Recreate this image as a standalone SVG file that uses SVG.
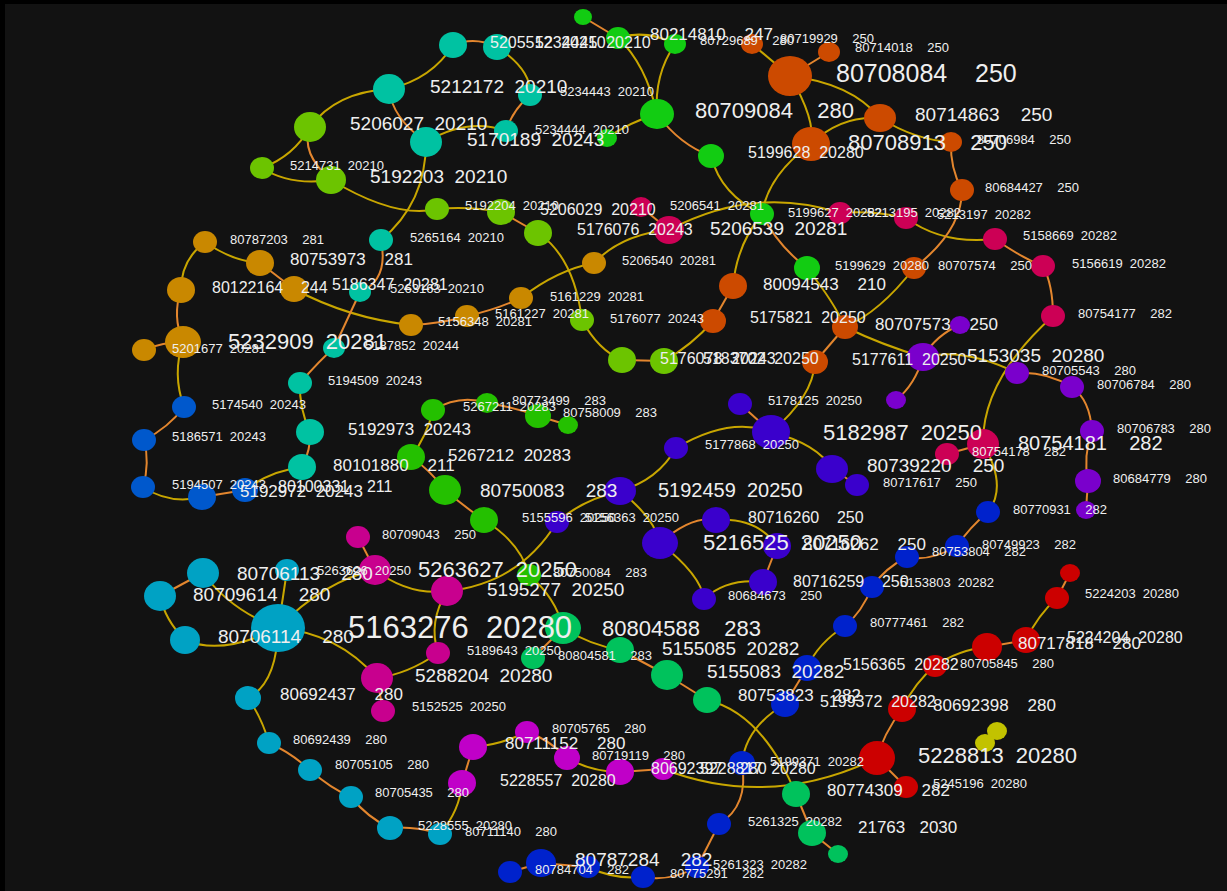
<svg xmlns="http://www.w3.org/2000/svg" width="1227" height="891" viewBox="0 0 1227 891">
<defs>
<style>
.e{fill:none;stroke-width:2}
.y{stroke:#c8a600}
.o{stroke:#e3862e}
.cg{fill:#12cc12}.co{fill:#cc4a00}.cr{fill:#cc0055}.cp{fill:#7a00cc}.ci{fill:#3a00cc}
.cb{fill:#0022cc}.ct{fill:#00c2a2}.cl{fill:#6cc400}.cy{fill:#c98800}.cbl{fill:#0058cc}
.cg2{fill:#24c000}.cc{fill:#00a2c4}.cm{fill:#c8008e}.cv{fill:#c000c8}.ce{fill:#00c25c}
.cx{fill:#cc0000}.cz{fill:#c2c200}
text{fill:#efefef;font-family:"Liberation Sans",Arial,sans-serif;white-space:pre}
.s13{font-size:13px}.s16{font-size:16px}.s17{font-size:17px}.s19{font-size:19px}
.s20{font-size:20px}.s22{font-size:22px}.s25{font-size:25px}.s31{font-size:31px}
</style>
</defs>
<rect width="1227" height="891" fill="#000"/>
<rect x="5" y="4" width="1222" height="887" fill="#121212"/>

<g id="edges">
<path class="e o" d="M583,17 L618,38"/>
<path class="e y" d="M618,38 Q646,29 675,44"/>
<path class="e y" d="M618,38 Q646,64 657,114"/>
<path class="e y" d="M675,44 Q654,75 657,114"/>
<path class="e y" d="M657,114 Q630,122 607,138"/>
<path class="e o" d="M657,114 Q680,145 711,156"/>
<path class="e o" d="M453,45 Q475,36 497,47"/>
<path class="e y" d="M497,47 Q532,70 530,95"/>
<path class="e y" d="M453,45 Q432,79 389,89"/>
<path class="e y" d="M389,89 Q336,92 310,127"/>
<path class="e o" d="M389,89 Q392,118 426,142"/>
<path class="e o" d="M530,95 Q512,111 506,131"/>
<path class="e y" d="M426,142 Q468,117 506,131"/>
<path class="e y" d="M310,127 Q294,156 262,168"/>
<path class="e o" d="M310,127 Q300,153 331,180"/>
<path class="e y" d="M262,168 Q290,186 331,180"/>
<path class="e y" d="M331,180 Q396,219 437,209"/>
<path class="e y" d="M437,209 Q469,206 501,212"/>
<path class="e o" d="M501,212 L538,233"/>
<path class="e y" d="M426,142 Q426,203 381,240"/>
<path class="e o" d="M381,240 Q389,280 360,292"/>
<path class="e y" d="M538,233 Q574,257 582,320"/>
<path class="e y" d="M582,320 Q598,350 622,360"/>
<path class="e o" d="M622,360 L664,361"/>
<path class="e y" d="M664,361 Q692,345 713,321"/>
<path class="e o" d="M713,321 L733,286"/>
<path class="e y" d="M762,214 Q737,244 733,286"/>
<path class="e y" d="M811,144 Q768,175 762,214"/>
<path class="e y" d="M711,156 Q721,195 762,214"/>
<path class="e o" d="M762,214 Q777,245 807,268"/>
<path class="e y" d="M594,263 Q622,234 669,230"/>
<path class="e o" d="M641,207 L669,230"/>
<path class="e y" d="M669,230 Q754,185 840,213"/>
<path class="e y" d="M840,213 Q873,210 906,218"/>
<path class="e y" d="M906,218 Q943,245 995,239"/>
<path class="e o" d="M995,239 Q1022,258 1043,266"/>
<path class="e o" d="M1043,266 Q1053,285 1053,316"/>
<path class="e y" d="M1053,316 Q982,380 983,444"/>
<path class="e o" d="M983,444 L947,454"/>
<path class="e y" d="M983,444 Q1008,486 988,512"/>
<path class="e o" d="M988,512 Q970,527 957,546"/>
<path class="e o" d="M957,546 Q930,562 907,557"/>
<path class="e o" d="M907,557 Q885,568 872,587"/>
<path class="e o" d="M872,587 Q862,612 845,626"/>
<path class="e y" d="M845,626 Q818,643 807,668"/>
<path class="e o" d="M807,668 L785,704"/>
<path class="e y" d="M785,704 Q746,727 742,763"/>
<path class="e o" d="M742,763 Q749,806 719,824"/>
<path class="e o" d="M719,824 L697,867"/>
<path class="e o" d="M697,867 Q670,882 643,877"/>
<path class="e y" d="M643,877 Q615,880 588,867"/>
<path class="e o" d="M588,867 L541,863"/>
<path class="e o" d="M541,863 L510,872"/>
<path class="e o" d="M960,325 Q936,335 923,357"/>
<path class="e o" d="M923,357 Q915,385 896,400"/>
<path class="e y" d="M923,357 Q964,347 1017,373"/>
<path class="e o" d="M1017,373 Q1045,371 1072,387"/>
<path class="e o" d="M1072,387 Q1090,400 1092,431"/>
<path class="e o" d="M1092,431 Q1083,456 1088,481"/>
<path class="e o" d="M1088,481 L1086,510"/>
<path class="e y" d="M752,44 L790,76"/>
<path class="e o" d="M790,76 L829,52"/>
<path class="e y" d="M790,76 Q816,120 811,144"/>
<path class="e y" d="M790,76 Q851,83 880,118"/>
<path class="e y" d="M880,118 Q841,115 811,144"/>
<path class="e y" d="M880,118 Q915,140 951,142"/>
<path class="e o" d="M951,142 Q950,168 962,190"/>
<path class="e o" d="M962,190 Q962,231 914,268"/>
<path class="e y" d="M807,268 Q834,302 845,327"/>
<path class="e y" d="M914,268 Q880,312 845,327"/>
<path class="e y" d="M845,327 Q882,345 923,357"/>
<path class="e o" d="M845,327 L815,362"/>
<path class="e y" d="M815,362 Q813,397 771,432"/>
<path class="e o" d="M771,432 L740,404"/>
<path class="e y" d="M771,432 Q730,416 676,448"/>
<path class="e y" d="M771,432 Q818,444 832,469"/>
<path class="e o" d="M832,469 L857,485"/>
<path class="e y" d="M676,448 Q658,480 620,491"/>
<path class="e y" d="M620,491 Q654,517 660,543"/>
<path class="e o" d="M660,543 Q692,515 716,520"/>
<path class="e y" d="M716,520 Q757,517 777,546"/>
<path class="e o" d="M777,546 L763,582"/>
<path class="e y" d="M763,582 Q727,578 704,599"/>
<path class="e y" d="M660,543 Q701,575 704,599"/>
<path class="e y" d="M620,491 Q582,500 557,522"/>
<path class="e y" d="M557,522 Q519,584 447,591"/>
<path class="e y" d="M484,520 Q521,543 529,575"/>
<path class="e y" d="M529,575 Q556,598 563,628"/>
<path class="e o" d="M433,410 Q460,394 487,403"/>
<path class="e o" d="M487,403 Q513,407 538,416"/>
<path class="e o" d="M538,416 L568,425"/>
<path class="e y" d="M433,410 Q427,436 411,457"/>
<path class="e o" d="M411,457 Q430,470 445,490"/>
<path class="e o" d="M445,490 Q466,508 484,520"/>
<path class="e y" d="M205,242 Q232,261 260,263"/>
<path class="e y" d="M205,242 Q181,260 181,290"/>
<path class="e o" d="M260,263 L294,289"/>
<path class="e o" d="M181,290 Q172,316 183,342"/>
<path class="e o" d="M183,342 Q163,342 144,350"/>
<path class="e y" d="M294,289 Q348,318 411,325"/>
<path class="e o" d="M411,325 Q440,324 467,316"/>
<path class="e o" d="M467,316 Q495,310 521,298"/>
<path class="e y" d="M521,298 Q557,270 594,263"/>
<path class="e y" d="M183,342 Q172,374 184,407"/>
<path class="e o" d="M184,407 Q168,428 144,440"/>
<path class="e o" d="M144,440 Q150,463 143,487"/>
<path class="e y" d="M143,487 Q170,505 202,497"/>
<path class="e o" d="M202,497 L245,490"/>
<path class="e y" d="M245,490 Q270,471 302,467"/>
<path class="e o" d="M302,467 Q311,450 310,432"/>
<path class="e y" d="M310,432 Q299,408 300,383"/>
<path class="e o" d="M300,383 Q320,360 334,348"/>
<path class="e o" d="M334,348 L360,292"/>
<path class="e o" d="M203,573 L160,596"/>
<path class="e y" d="M160,596 Q165,620 185,640"/>
<path class="e y" d="M185,640 Q222,656 278,628"/>
<path class="e y" d="M203,573 Q230,610 278,628"/>
<path class="e y" d="M287,570 Q283,598 278,628"/>
<path class="e y" d="M278,628 Q324,581 375,570"/>
<path class="e y" d="M278,628 Q338,633 377,678"/>
<path class="e y" d="M278,628 Q277,683 248,698"/>
<path class="e y" d="M248,698 Q262,718 269,743"/>
<path class="e o" d="M269,743 Q290,752 310,770"/>
<path class="e o" d="M310,770 Q330,788 351,797"/>
<path class="e o" d="M351,797 Q368,818 390,828"/>
<path class="e o" d="M390,828 Q415,826 440,834"/>
<path class="e y" d="M440,834 Q460,810 462,783"/>
<path class="e o" d="M462,783 L473,747"/>
<path class="e y" d="M473,747 Q500,745 527,732"/>
<path class="e o" d="M527,732 Q550,740 567,758"/>
<path class="e y" d="M567,758 Q592,772 620,772"/>
<path class="e o" d="M620,772 L663,769"/>
<path class="e y" d="M663,769 Q770,810 877,758"/>
<path class="e o" d="M358,537 L375,570"/>
<path class="e y" d="M375,570 Q409,596 447,591"/>
<path class="e y" d="M447,591 Q428,622 438,653"/>
<path class="e y" d="M438,653 Q408,674 377,678"/>
<path class="e o" d="M377,678 L383,711"/>
<path class="e o" d="M563,628 L533,658"/>
<path class="e y" d="M563,628 Q590,645 620,650"/>
<path class="e o" d="M620,650 L667,675"/>
<path class="e o" d="M667,675 L707,700"/>
<path class="e y" d="M707,700 Q762,713 796,794"/>
<path class="e o" d="M796,794 L812,833"/>
<path class="e o" d="M812,833 L838,854"/>
<path class="e o" d="M1070,573 L1057,598"/>
<path class="e y" d="M1057,598 Q1038,615 1026,640"/>
<path class="e o" d="M1026,640 L987,647"/>
<path class="e y" d="M987,647 Q958,650 935,666"/>
<path class="e y" d="M935,666 Q915,682 902,709"/>
<path class="e o" d="M902,709 Q883,735 877,758"/>
<path class="e o" d="M877,758 L906,787"/>
<path class="e o" d="M997,731 L985,743"/>
</g>

<g id="nodes">
<g id="node-g1"><ellipse class="cg" cx="583" cy="17" rx="9" ry="8"/></g>
<g id="node-g2"><ellipse class="cg" cx="618" cy="38" rx="12" ry="11"/></g>
<g id="node-g3"><ellipse class="cg" cx="675" cy="44" rx="11" ry="10"/></g>
<g id="node-g4"><ellipse class="cg" cx="657" cy="114" rx="17" ry="15"/></g>
<g id="node-g5"><ellipse class="cg" cx="711" cy="156" rx="13" ry="12"/></g>
<g id="node-g6"><ellipse class="cg" cx="607" cy="138" rx="10" ry="9"/></g>
<g id="node-g7"><ellipse class="cg" cx="762" cy="214" rx="12" ry="11"/></g>
<g id="node-g8"><ellipse class="cg" cx="807" cy="268" rx="13" ry="12"/></g>

<g id="node-o1"><ellipse class="co" cx="752" cy="44" rx="11" ry="10"/></g>
<g id="node-o2"><ellipse class="co" cx="790" cy="76" rx="22" ry="20"/></g>
<g id="node-o3"><ellipse class="co" cx="829" cy="52" rx="11" ry="10"/></g>
<g id="node-o4"><ellipse class="co" cx="880" cy="118" rx="16" ry="14"/></g>
<g id="node-o5"><ellipse class="co" cx="811" cy="144" rx="19" ry="17"/></g>
<g id="node-o6"><ellipse class="co" cx="951" cy="142" rx="11" ry="10"/></g>
<g id="node-o7"><ellipse class="co" cx="962" cy="190" rx="12" ry="11"/></g>
<g id="node-o8"><ellipse class="co" cx="914" cy="268" rx="12" ry="11"/></g>
<g id="node-o9"><ellipse class="co" cx="733" cy="286" rx="14" ry="13"/></g>
<g id="node-o10"><ellipse class="co" cx="713" cy="321" rx="13" ry="12"/></g>
<g id="node-o11"><ellipse class="co" cx="845" cy="327" rx="13" ry="12"/></g>
<g id="node-o12"><ellipse class="co" cx="815" cy="362" rx="13" ry="12"/></g>

<g id="node-r1"><ellipse class="cr" cx="641" cy="207" rx="11" ry="10"/></g>
<g id="node-r2"><ellipse class="cr" cx="669" cy="230" rx="15" ry="14"/></g>
<g id="node-r3"><ellipse class="cr" cx="840" cy="213" rx="12" ry="11"/></g>
<g id="node-r4"><ellipse class="cr" cx="906" cy="218" rx="12" ry="11"/></g>
<g id="node-r5"><ellipse class="cr" cx="995" cy="239" rx="12" ry="11"/></g>
<g id="node-r6"><ellipse class="cr" cx="1043" cy="266" rx="12" ry="11"/></g>
<g id="node-r7"><ellipse class="cr" cx="1053" cy="316" rx="12" ry="11"/></g>
<g id="node-r8"><ellipse class="cr" cx="983" cy="444" rx="16" ry="15"/></g>
<g id="node-r9"><ellipse class="cr" cx="947" cy="454" rx="12" ry="11"/></g>

<g id="node-p1"><ellipse class="cp" cx="960" cy="325" rx="10" ry="9"/></g>
<g id="node-p2"><ellipse class="cp" cx="923" cy="357" rx="16" ry="14"/></g>
<g id="node-p3"><ellipse class="cp" cx="896" cy="400" rx="10" ry="9"/></g>
<g id="node-p4"><ellipse class="cp" cx="1017" cy="373" rx="12" ry="11"/></g>
<g id="node-p5"><ellipse class="cp" cx="1072" cy="387" rx="12" ry="11"/></g>
<g id="node-p6"><ellipse class="cp" cx="1092" cy="431" rx="12" ry="11"/></g>
<g id="node-p7"><ellipse class="cp" cx="1088" cy="481" rx="13" ry="12"/></g>
<g id="node-p8"><ellipse class="cp" cx="1086" cy="510" rx="10" ry="9"/></g>

<g id="node-i1"><ellipse class="ci" cx="740" cy="404" rx="12" ry="11"/></g>
<g id="node-i2"><ellipse class="ci" cx="771" cy="432" rx="19" ry="17"/></g>
<g id="node-i3"><ellipse class="ci" cx="676" cy="448" rx="12" ry="11"/></g>
<g id="node-i4"><ellipse class="ci" cx="832" cy="469" rx="16" ry="14"/></g>
<g id="node-i5"><ellipse class="ci" cx="857" cy="485" rx="12" ry="11"/></g>
<g id="node-i6"><ellipse class="ci" cx="620" cy="491" rx="16" ry="14"/></g>
<g id="node-i7"><ellipse class="ci" cx="660" cy="543" rx="18" ry="16"/></g>
<g id="node-i8"><ellipse class="ci" cx="716" cy="520" rx="14" ry="13"/></g>
<g id="node-i9"><ellipse class="ci" cx="777" cy="546" rx="14" ry="13"/></g>
<g id="node-i10"><ellipse class="ci" cx="763" cy="582" rx="14" ry="13"/></g>
<g id="node-i11"><ellipse class="ci" cx="704" cy="599" rx="12" ry="11"/></g>
<g id="node-i12"><ellipse class="ci" cx="557" cy="522" rx="12" ry="11"/></g>

<g id="node-b1"><ellipse class="cb" cx="988" cy="512" rx="12" ry="11"/></g>
<g id="node-b2"><ellipse class="cb" cx="957" cy="546" rx="12" ry="11"/></g>
<g id="node-b3"><ellipse class="cb" cx="907" cy="557" rx="12" ry="11"/></g>
<g id="node-b4"><ellipse class="cb" cx="872" cy="587" rx="12" ry="11"/></g>
<g id="node-b5"><ellipse class="cb" cx="845" cy="626" rx="12" ry="11"/></g>
<g id="node-b6"><ellipse class="cb" cx="807" cy="668" rx="14" ry="13"/></g>
<g id="node-b7"><ellipse class="cb" cx="785" cy="704" rx="14" ry="13"/></g>
<g id="node-b8"><ellipse class="cb" cx="742" cy="763" rx="13" ry="12"/></g>
<g id="node-b9"><ellipse class="cb" cx="719" cy="824" rx="12" ry="11"/></g>
<g id="node-b10"><ellipse class="cb" cx="697" cy="867" rx="12" ry="11"/></g>
<g id="node-b11"><ellipse class="cb" cx="643" cy="877" rx="12" ry="11"/></g>
<g id="node-b12"><ellipse class="cb" cx="588" cy="867" rx="12" ry="11"/></g>
<g id="node-b13"><ellipse class="cb" cx="541" cy="863" rx="15" ry="14"/></g>
<g id="node-b14"><ellipse class="cb" cx="510" cy="872" rx="12" ry="11"/></g>

<g id="node-t1"><ellipse class="ct" cx="453" cy="45" rx="14" ry="13"/></g>
<g id="node-t2"><ellipse class="ct" cx="497" cy="47" rx="14" ry="13"/></g>
<g id="node-t3"><ellipse class="ct" cx="389" cy="89" rx="16" ry="15"/></g>
<g id="node-t4"><ellipse class="ct" cx="530" cy="95" rx="12" ry="11"/></g>
<g id="node-t5"><ellipse class="ct" cx="426" cy="142" rx="16" ry="15"/></g>
<g id="node-t6"><ellipse class="ct" cx="506" cy="131" rx="12" ry="11"/></g>
<g id="node-t7"><ellipse class="ct" cx="381" cy="240" rx="12" ry="11"/></g>
<g id="node-t8"><ellipse class="ct" cx="360" cy="292" rx="11" ry="10"/></g>
<g id="node-t9"><ellipse class="ct" cx="334" cy="348" rx="11" ry="10"/></g>
<g id="node-t10"><ellipse class="ct" cx="300" cy="383" rx="12" ry="11"/></g>
<g id="node-t11"><ellipse class="ct" cx="310" cy="432" rx="14" ry="13"/></g>
<g id="node-t12"><ellipse class="ct" cx="302" cy="467" rx="14" ry="13"/></g>

<g id="node-l1"><ellipse class="cl" cx="310" cy="127" rx="16" ry="15"/></g>
<g id="node-l2"><ellipse class="cl" cx="262" cy="168" rx="12" ry="11"/></g>
<g id="node-l3"><ellipse class="cl" cx="331" cy="180" rx="15" ry="14"/></g>
<g id="node-l4"><ellipse class="cl" cx="437" cy="209" rx="12" ry="11"/></g>
<g id="node-l5"><ellipse class="cl" cx="501" cy="212" rx="14" ry="13"/></g>
<g id="node-l6"><ellipse class="cl" cx="538" cy="233" rx="14" ry="13"/></g>
<g id="node-l7"><ellipse class="cl" cx="582" cy="320" rx="12" ry="11"/></g>
<g id="node-l8"><ellipse class="cl" cx="622" cy="360" rx="14" ry="13"/></g>
<g id="node-l9"><ellipse class="cl" cx="664" cy="361" rx="14" ry="13"/></g>

<g id="node-y1"><ellipse class="cy" cx="205" cy="242" rx="12" ry="11"/></g>
<g id="node-y2"><ellipse class="cy" cx="260" cy="263" rx="14" ry="13"/></g>
<g id="node-y3"><ellipse class="cy" cx="181" cy="290" rx="14" ry="13"/></g>
<g id="node-y4"><ellipse class="cy" cx="294" cy="289" rx="14" ry="13"/></g>
<g id="node-y5"><ellipse class="cy" cx="183" cy="342" rx="18" ry="16"/></g>
<g id="node-y6"><ellipse class="cy" cx="144" cy="350" rx="12" ry="11"/></g>
<g id="node-y7"><ellipse class="cy" cx="411" cy="325" rx="12" ry="11"/></g>
<g id="node-y8"><ellipse class="cy" cx="467" cy="316" rx="12" ry="11"/></g>
<g id="node-y9"><ellipse class="cy" cx="521" cy="298" rx="12" ry="11"/></g>
<g id="node-y10"><ellipse class="cy" cx="594" cy="263" rx="12" ry="11"/></g>

<g id="node-bl1"><ellipse class="cbl" cx="184" cy="407" rx="12" ry="11"/></g>
<g id="node-bl2"><ellipse class="cbl" cx="144" cy="440" rx="12" ry="11"/></g>
<g id="node-bl3"><ellipse class="cbl" cx="143" cy="487" rx="12" ry="11"/></g>
<g id="node-bl4"><ellipse class="cbl" cx="202" cy="497" rx="14" ry="13"/></g>
<g id="node-bl5"><ellipse class="cbl" cx="245" cy="490" rx="13" ry="12"/></g>

<g id="node-gg1"><ellipse class="cg2" cx="433" cy="410" rx="12" ry="11"/></g>
<g id="node-gg2"><ellipse class="cg2" cx="487" cy="403" rx="11" ry="10"/></g>
<g id="node-gg3"><ellipse class="cg2" cx="538" cy="416" rx="13" ry="12"/></g>
<g id="node-gg4"><ellipse class="cg2" cx="568" cy="425" rx="10" ry="9"/></g>
<g id="node-gg5"><ellipse class="cg2" cx="411" cy="457" rx="14" ry="13"/></g>
<g id="node-gg6"><ellipse class="cg2" cx="445" cy="490" rx="16" ry="15"/></g>
<g id="node-gg7"><ellipse class="cg2" cx="484" cy="520" rx="14" ry="13"/></g>
<g id="node-gg8"><ellipse class="cg2" cx="529" cy="575" rx="12" ry="11"/></g>

<g id="node-c1"><ellipse class="cc" cx="203" cy="573" rx="16" ry="15"/></g>
<g id="node-c2"><ellipse class="cc" cx="160" cy="596" rx="16" ry="15"/></g>
<g id="node-c3"><ellipse class="cc" cx="185" cy="640" rx="15" ry="14"/></g>
<g id="node-c4"><ellipse class="cc" cx="278" cy="628" rx="27" ry="24"/></g>
<g id="node-c5"><ellipse class="cc" cx="287" cy="570" rx="12" ry="11"/></g>
<g id="node-c6"><ellipse class="cc" cx="248" cy="698" rx="13" ry="12"/></g>
<g id="node-c7"><ellipse class="cc" cx="269" cy="743" rx="12" ry="11"/></g>
<g id="node-c8"><ellipse class="cc" cx="310" cy="770" rx="12" ry="11"/></g>
<g id="node-c9"><ellipse class="cc" cx="351" cy="797" rx="12" ry="11"/></g>
<g id="node-c10"><ellipse class="cc" cx="390" cy="828" rx="13" ry="12"/></g>
<g id="node-c11"><ellipse class="cc" cx="440" cy="834" rx="12" ry="11"/></g>

<g id="node-m1"><ellipse class="cm" cx="358" cy="537" rx="12" ry="11"/></g>
<g id="node-m2"><ellipse class="cm" cx="375" cy="570" rx="16" ry="15"/></g>
<g id="node-m3"><ellipse class="cm" cx="447" cy="591" rx="16" ry="15"/></g>
<g id="node-m4"><ellipse class="cm" cx="438" cy="653" rx="12" ry="11"/></g>
<g id="node-m5"><ellipse class="cm" cx="377" cy="678" rx="16" ry="15"/></g>
<g id="node-m6"><ellipse class="cm" cx="383" cy="711" rx="12" ry="11"/></g>

<g id="node-v1"><ellipse class="cv" cx="527" cy="732" rx="12" ry="11"/></g>
<g id="node-v2"><ellipse class="cv" cx="473" cy="747" rx="14" ry="13"/></g>
<g id="node-v3"><ellipse class="cv" cx="567" cy="758" rx="13" ry="12"/></g>
<g id="node-v4"><ellipse class="cv" cx="462" cy="783" rx="14" ry="13"/></g>
<g id="node-v5"><ellipse class="cv" cx="620" cy="772" rx="14" ry="13"/></g>
<g id="node-v6"><ellipse class="cv" cx="663" cy="769" rx="12" ry="11"/></g>

<g id="node-e1"><ellipse class="ce" cx="563" cy="628" rx="18" ry="16"/></g>
<g id="node-e2"><ellipse class="ce" cx="533" cy="658" rx="12" ry="11"/></g>
<g id="node-e3"><ellipse class="ce" cx="620" cy="650" rx="14" ry="13"/></g>
<g id="node-e4"><ellipse class="ce" cx="667" cy="675" rx="16" ry="15"/></g>
<g id="node-e5"><ellipse class="ce" cx="707" cy="700" rx="14" ry="13"/></g>
<g id="node-e6"><ellipse class="ce" cx="796" cy="794" rx="14" ry="13"/></g>
<g id="node-e7"><ellipse class="ce" cx="812" cy="833" rx="14" ry="13"/></g>
<g id="node-e8"><ellipse class="ce" cx="838" cy="854" rx="10" ry="9"/></g>

<g id="node-x1"><ellipse class="cx" cx="1070" cy="573" rx="10" ry="9"/></g>
<g id="node-x2"><ellipse class="cx" cx="1057" cy="598" rx="12" ry="11"/></g>
<g id="node-x3"><ellipse class="cx" cx="1026" cy="640" rx="14" ry="13"/></g>
<g id="node-x4"><ellipse class="cx" cx="987" cy="647" rx="15" ry="14"/></g>
<g id="node-x5"><ellipse class="cx" cx="935" cy="666" rx="12" ry="11"/></g>
<g id="node-x6"><ellipse class="cx" cx="902" cy="709" rx="14" ry="13"/></g>
<g id="node-x7"><ellipse class="cx" cx="877" cy="758" rx="18" ry="17"/></g>
<g id="node-x8"><ellipse class="cx" cx="906" cy="787" rx="12" ry="11"/></g>

<g id="node-z1"><ellipse class="cz" cx="997" cy="731" rx="10" ry="9"/></g>
<g id="node-z2"><ellipse class="cz" cx="985" cy="743" rx="10" ry="9"/></g>
</g>

<g id="labels">
<text class="s16" x="490" y="48">5205512  20210</text>
<text class="s16" x="535" y="48">5234445  20210</text>
<text class="s17" x="650" y="40">80214810    247</text>
<text class="s13" x="700" y="45">80729689    280</text>
<text class="s13" x="780" y="43">80719929    250</text>
<text class="s13" x="855" y="52">80714018    250</text>
<text class="s25" x="836" y="82">80708084    250</text>
<text class="s19" x="430" y="93">5212172  20210</text>
<text class="s13" x="560" y="96">5234443  20210</text>
<text class="s22" x="695" y="118">80709084    280</text>
<text class="s19" x="915" y="121">80714863    250</text>
<text class="s19" x="350" y="130">5206027  20210</text>
<text class="s13" x="535" y="134">5234444  20210</text>
<text class="s19" x="467" y="146">5170189  20243</text>
<text class="s22" x="848" y="150">80708913    250</text>
<text class="s13" x="977" y="144">80706984    250</text>
<text class="s16" x="748" y="158">5199628  20280</text>
<text class="s13" x="290" y="170">5214731  20210</text>
<text class="s19" x="370" y="183">5192203  20210</text>
<text class="s13" x="985" y="192">80684427    250</text>
<text class="s13" x="465" y="210">5192204  20210</text>
<text class="s13" x="670" y="210">5206541  20281</text>
<text class="s16" x="540" y="215">5206029  20210</text>
<text class="s13" x="788" y="217">5199627  20282</text>
<text class="s13" x="867" y="217">5213195  20282</text>
<text class="s13" x="937" y="219">5213197  20282</text>
<text class="s16" x="577" y="235">5176076  20243</text>
<text class="s19" x="710" y="235">5206539  20281</text>
<text class="s13" x="1023" y="240">5158669  20282</text>
<text class="s13" x="410" y="242">5265164  20210</text>
<text class="s13" x="230" y="244">80787203    281</text>
<text class="s13" x="622" y="265">5206540  20281</text>
<text class="s17" x="290" y="265">80753973    281</text>
<text class="s13" x="835" y="270">5199629  20280</text>
<text class="s13" x="938" y="270">80707574    250</text>
<text class="s13" x="1072" y="268">5156619  20282</text>
<text class="s17" x="763" y="290">80094543    210</text>
<text class="s16" x="212" y="293">80122164    244</text>
<text class="s16" x="332" y="290">5186347  20281</text>
<text class="s13" x="390" y="293">5263163  20210</text>
<text class="s13" x="550" y="301">5161229  20281</text>
<text class="s13" x="1078" y="318">80754177    282</text>
<text class="s13" x="495" y="318">5161227  20281</text>
<text class="s13" x="438" y="326">5156348  20281</text>
<text class="s13" x="610" y="323">5176077  20243</text>
<text class="s16" x="750" y="323">5175821  20250</text>
<text class="s17" x="875" y="330">80707573    250</text>
<text class="s22" x="228" y="349">5232909  20281</text>
<text class="s13" x="172" y="353">5201677  20281</text>
<text class="s13" x="365" y="350">5187852  20244</text>
<text class="s19" x="967" y="362">5153035  20280</text>
<text class="s16" x="660" y="364">5176078  20243</text>
<text class="s16" x="703" y="364">5183702  20250</text>
<text class="s16" x="852" y="365">5177611  20250</text>
<text class="s13" x="1042" y="375">80705543    280</text>
<text class="s13" x="1097" y="389">80706784    280</text>
<text class="s13" x="328" y="385">5194509  20243</text>
<text class="s13" x="768" y="405">5178125  20250</text>
<text class="s13" x="212" y="409">5174540  20243</text>
<text class="s13" x="463" y="411">5267211  20283</text>
<text class="s13" x="512" y="405">80773499    283</text>
<text class="s13" x="563" y="417">80758009    283</text>
<text class="s13" x="1117" y="433">80706783    280</text>
<text class="s17" x="348" y="435">5192973  20243</text>
<text class="s22" x="823" y="440">5182987  20250</text>
<text class="s13" x="172" y="441">5186571  20243</text>
<text class="s13" x="705" y="449">5177868  20250</text>
<text class="s20" x="1018" y="450">80754181    282</text>
<text class="s13" x="972" y="456">80754178    282</text>
<text class="s17" x="448" y="461">5267212  20283</text>
<text class="s19" x="867" y="472">80739220    250</text>
<text class="s17" x="333" y="471">80101880    211</text>
<text class="s13" x="1113" y="483">80684779    280</text>
<text class="s13" x="883" y="487">80717617    250</text>
<text class="s13" x="172" y="489">5194507  20243</text>
<text class="s16" x="278" y="492">80100331    211</text>
<text class="s17" x="240" y="497">5192972  20243</text>
<text class="s19" x="480" y="497">80750083    283</text>
<text class="s20" x="658" y="497">5192459  20250</text>
<text class="s13" x="1013" y="514">80770931    282</text>
<text class="s13" x="522" y="522">5155596  20250</text>
<text class="s13" x="585" y="522">5156363  20250</text>
<text class="s16" x="748" y="523">80716260    250</text>
<text class="s13" x="382" y="539">80709043    250</text>
<text class="s22" x="703" y="550">5216525  20250</text>
<text class="s17" x="803" y="550">80716262    250</text>
<text class="s13" x="982" y="549">80749923    282</text>
<text class="s13" x="932" y="556">80753804    282</text>
<text class="s13" x="553" y="577">80750084    283</text>
<text class="s13" x="317" y="575">5263626  20250</text>
<text class="s22" x="418" y="577">5263627  20250</text>
<text class="s19" x="237" y="580">80706113    280</text>
<text class="s13" x="900" y="587">5153803  20282</text>
<text class="s16" x="793" y="587">80716259    250</text>
<text class="s19" x="487" y="596">5195277  20250</text>
<text class="s13" x="1085" y="598">5224203  20280</text>
<text class="s19" x="193" y="601">80709614    280</text>
<text class="s13" x="728" y="600">80684673    250</text>
<text class="s13" x="870" y="627">80777461    282</text>
<text class="s22" x="602" y="636">80804588    283</text>
<text class="s31" x="348" y="638">5163276  20280</text>
<text class="s19" x="218" y="643">80706114    280</text>
<text class="s16" x="1067" y="643">5224204  20280</text>
<text class="s17" x="1018" y="649">80717818    280</text>
<text class="s13" x="467" y="655">5189643  20250</text>
<text class="s19" x="662" y="655">5155085  20282</text>
<text class="s13" x="558" y="660">80804581    283</text>
<text class="s13" x="960" y="668">80705845    280</text>
<text class="s16" x="843" y="670">5156365  20282</text>
<text class="s19" x="707" y="678">5155083  20282</text>
<text class="s19" x="415" y="682">5288204  20280</text>
<text class="s17" x="280" y="700">80692437    280</text>
<text class="s17" x="738" y="701">80753823    282</text>
<text class="s16" x="820" y="707">5199372  20282</text>
<text class="s17" x="933" y="711">80692398    280</text>
<text class="s13" x="412" y="711">5152525  20250</text>
<text class="s13" x="552" y="733">80705765    280</text>
<text class="s13" x="293" y="744">80692439    280</text>
<text class="s17" x="505" y="749">80711152    280</text>
<text class="s13" x="592" y="760">80719119    280</text>
<text class="s22" x="918" y="763">5228813  20280</text>
<text class="s13" x="770" y="766">5199371  20282</text>
<text class="s16" x="651" y="774">80692397    280</text>
<text class="s16" x="700" y="774">5228817  20280</text>
<text class="s13" x="335" y="769">80705105    280</text>
<text class="s16" x="500" y="786">5228557  20280</text>
<text class="s13" x="933" y="788">5245196  20280</text>
<text class="s13" x="375" y="797">80705435    280</text>
<text class="s17" x="827" y="796">80774309    282</text>
<text class="s13" x="748" y="826">5261325  20282</text>
<text class="s13" x="418" y="830">5228555  20280</text>
<text class="s17" x="858" y="833">21763   2030</text>
<text class="s13" x="465" y="836">80711140    280</text>
<text class="s19" x="575" y="866">80787284    282</text>
<text class="s13" x="713" y="869">5261323  20282</text>
<text class="s13" x="670" y="878">80775291    282</text>
<text class="s13" x="535" y="874">80784704    282</text>
</g>
</svg>
